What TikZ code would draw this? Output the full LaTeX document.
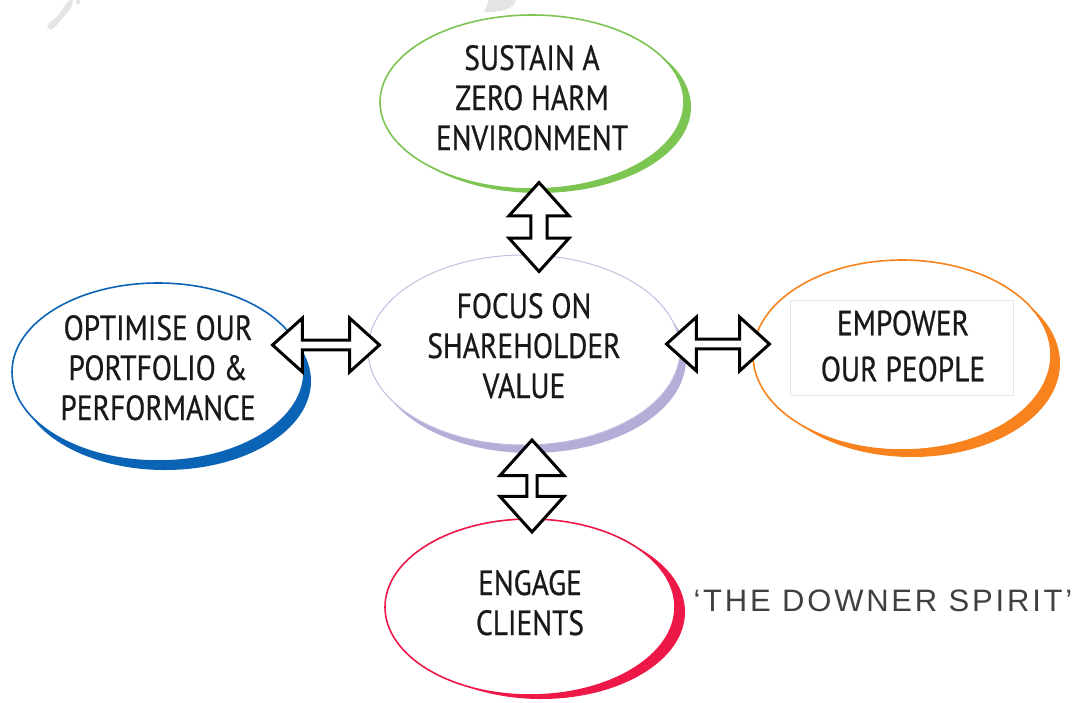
\documentclass[tikz,border=0pt]{standalone}
\usepackage{fontspec}
\setmainfont{PT Sans}[FakeStretch=0.84,FakeBold=0.6]
\newfontfamily\spiritfont[LetterSpace=9]{Liberation Sans}
\usetikzlibrary{shapes.geometric,shapes.arrows,calc}
\definecolor{cgreen}{HTML}{7CC552}
\definecolor{clav}{HTML}{B3AED8}
\definecolor{cblue}{HTML}{0B63B5}
\definecolor{corange}{HTML}{F7821E}
\definecolor{cred}{HTML}{EE1848}
\definecolor{cblob}{HTML}{E3E4E6}
\newcommand{\bubbletext}[1]{\makebox[0pt][c]{\begin{tabular}{@{}c@{}}#1\end{tabular}}}
\tikzset{
  bubble/.style={ellipse, fill=white, line width=1.6pt, inner sep=0pt,
    font=\fontsize{35}{40}\selectfont, text=black!90},
  blockarrow/.style={double arrow, draw=black, fill=white, line width=3pt,
    double arrow tip angle=84, inner sep=0pt, line join=miter},
  spirit/.style={font=\spiritfont\fontsize{31}{36}\selectfont, text=black!75}
}
\begin{document}
\begin{tikzpicture}[x=1pt,y=-1pt]
\useasboundingbox (0,0) rectangle (1086,702);
% faint background fragments
\fill[cblob] (47,27) -- (50,22) -- (57,17) -- (62,10) -- (66,4) -- (70,0) -- (73,1) -- (71,8) -- (66,14) -- (60,21) -- (55,27) -- (51,30) -- cycle;
\fill[cblob] (78,2) circle (2.2);
\fill[cblob] (484,12) -- (487,5) -- (489,0) -- (516,0) -- (513,6) -- (505,10) -- (494,12) -- cycle;
% centres
\coordinate (cT) at (532,102);
\coordinate (cC) at (524,350);
\coordinate (cL) at (158,372);
\coordinate (cR) at (902,355);
\coordinate (cB) at (530,607);
% crescents
\fill[cgreen] ($(cT)+(7,5)$) ellipse (152 and 86);
\fill[clav] ($(cC)+(7,9)$) ellipse (155 and 94);
\fill[cblue] ($(cL)+(7,9)$) ellipse (146 and 89);
\fill[corange] ($(cR)+(10,8)$) ellipse (148 and 94);
\fill[cred] ($(cB)+(11,5)$) ellipse (144 and 87);
% bubbles
\node[bubble, draw=cgreen, minimum width=304pt, minimum height=174pt] (top) at (cT)
  {\bubbletext{SUSTAIN A\\ZERO HARM\\ENVIRONMENT}};
\node[bubble, draw=clav!80, line width=1pt, minimum width=312pt, minimum height=190pt] (mid) at (cC)
  {\bubbletext{FOCUS ON\\SHAREHOLDER\\VALUE}};
\node[bubble, draw=cblue, minimum width=292pt, minimum height=178pt] (left) at (cL)
  {\bubbletext{OPTIMISE OUR\\PORTFOLIO \&\\PERFORMANCE}};
\node[bubble, draw=corange, minimum width=298pt, minimum height=190pt] (right) at (cR) {};
\draw[black!10, line width=0.8pt] (790,300) rectangle (1013,395);
\node[font=\fontsize{35}{46}\selectfont, align=center, text=black!90] (righttext) at (903,346)
  {EMPOWER\\OUR PEOPLE};
\node[bubble, draw=cred, minimum width=290pt, minimum height=176pt] (bottom) at (cB)
  {\bubbletext{ENGAGE\\CLIENTS}};
% block arrows
\node[blockarrow, rotate=90, minimum height=89pt, minimum width=60pt, double arrow head extend=4pt] (aT) at (539,227) {};
\node[blockarrow, rotate=90, minimum height=92pt, minimum width=64pt, double arrow head extend=8pt] (aB) at (532,486) {};
\node[blockarrow, minimum height=107pt, minimum width=54pt, double arrow head extend=7pt] (aL) at (326,345) {};
\node[blockarrow, minimum height=103pt, minimum width=54pt, double arrow head extend=7pt] (aR) at (718,344) {};
% caption
\node[spirit, anchor=west] (spirit) at (690,601) {‘THE DOWNER SPIRIT’};
\end{tikzpicture}
\end{document}
